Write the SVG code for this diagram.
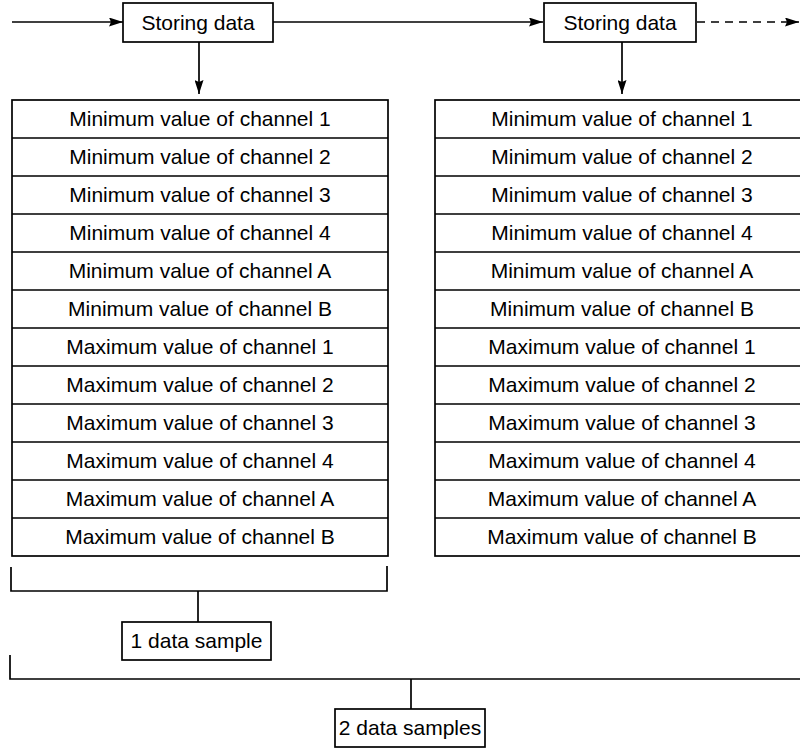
<svg xmlns="http://www.w3.org/2000/svg" width="800" height="748" viewBox="0 0 800 748">
<style>
.box{fill:#fff;stroke:#000;stroke-width:1.7}
.ln{fill:none;stroke:#000;stroke-width:1.7}
.dash{fill:none;stroke:#000;stroke-width:1.7;stroke-dasharray:8 6}
text{font-family:"Liberation Sans",Arial,sans-serif;font-size:21px;fill:#000;text-anchor:middle}
</style>
<defs>
<marker id="ah" viewBox="0 0 14 9" refX="14" refY="4.5" markerWidth="14" markerHeight="9" markerUnits="userSpaceOnUse" orient="auto">
<path d="M0,0 L14,4.5 L0,9 L2,4.5 Z" fill="#000"/>
</marker>
</defs>
<g id="connectors">
<line class="ln" x1="12" y1="22" x2="123" y2="22" marker-end="url(#ah)"/>
<line class="ln" x1="273" y1="22" x2="543" y2="22" marker-end="url(#ah)"/>
<line class="dash" x1="697" y1="22" x2="799" y2="22" marker-end="url(#ah)"/>
<line class="ln" x1="199" y1="42" x2="199" y2="94" marker-end="url(#ah)"/>
<line class="ln" x1="622" y1="42" x2="622" y2="94" marker-end="url(#ah)"/>
<path class="ln" d="M11,567 V591 H387 V566"/>
<line class="ln" x1="198" y1="591" x2="198" y2="622"/>
<path class="ln" d="M10,655 V679 H800"/>
<line class="ln" x1="411" y1="679" x2="411" y2="709"/>
</g>
<g id="store1"><rect class="box" x="123" y="3" width="150" height="39"/><text x="198" y="30">Storing data</text></g>
<g id="store2"><rect class="box" x="544" y="3" width="152" height="39"/><text x="620" y="30">Storing data</text></g>
<g id="table1">
<rect class="box" x="12" y="100" width="376" height="456"/>
<path class="ln" d="M12,138H388M12,176H388M12,214H388M12,252H388M12,290H388M12,328H388M12,366H388M12,404H388M12,442H388M12,480H388M12,518H388"/>
<text x="200" y="126">Minimum value of channel 1</text>
<text x="200" y="164">Minimum value of channel 2</text>
<text x="200" y="202">Minimum value of channel 3</text>
<text x="200" y="240">Minimum value of channel 4</text>
<text x="200" y="278">Minimum value of channel A</text>
<text x="200" y="316">Minimum value of channel B</text>
<text x="200" y="354">Maximum value of channel 1</text>
<text x="200" y="392">Maximum value of channel 2</text>
<text x="200" y="430">Maximum value of channel 3</text>
<text x="200" y="468">Maximum value of channel 4</text>
<text x="200" y="506">Maximum value of channel A</text>
<text x="200" y="544">Maximum value of channel B</text>
</g>
<g id="table2">
<rect class="box" x="435" y="100" width="376" height="456"/>
<path class="ln" d="M435,138H811M435,176H811M435,214H811M435,252H811M435,290H811M435,328H811M435,366H811M435,404H811M435,442H811M435,480H811M435,518H811"/>
<text x="622" y="126">Minimum value of channel 1</text>
<text x="622" y="164">Minimum value of channel 2</text>
<text x="622" y="202">Minimum value of channel 3</text>
<text x="622" y="240">Minimum value of channel 4</text>
<text x="622" y="278">Minimum value of channel A</text>
<text x="622" y="316">Minimum value of channel B</text>
<text x="622" y="354">Maximum value of channel 1</text>
<text x="622" y="392">Maximum value of channel 2</text>
<text x="622" y="430">Maximum value of channel 3</text>
<text x="622" y="468">Maximum value of channel 4</text>
<text x="622" y="506">Maximum value of channel A</text>
<text x="622" y="544">Maximum value of channel B</text>
</g>
<g id="sample1"><rect class="box" x="122" y="622" width="149" height="38"/><text x="196.5" y="648">1 data sample</text></g>
<g id="sample2"><rect class="box" x="335" y="709" width="150" height="38"/><text x="410" y="735">2 data samples</text></g>
</svg>
